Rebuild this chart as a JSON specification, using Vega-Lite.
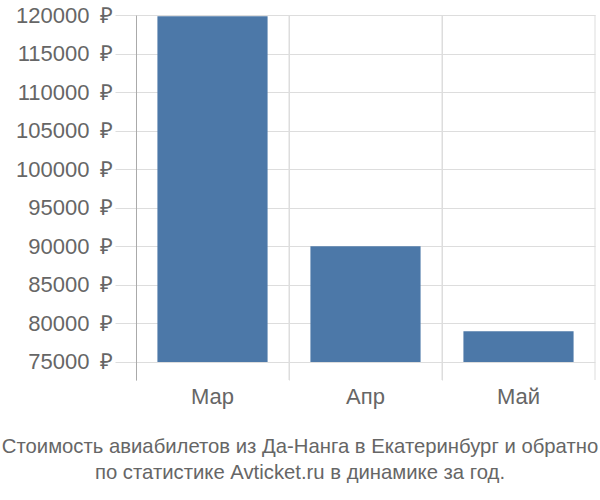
{
  "$schema": "https://vega.github.io/schema/vega-lite/v6.json",
  "width": 459,
  "height": 365,
  "autosize": {"type": "none"},
  "padding": {"left": 136, "top": 15, "right": 5, "bottom": 120},
  "background": "white",
  "config": {
    "view": {"stroke": null},
    "font": "Liberation Sans"
  },
  "title": {
    "text": ["Стоимость авиабилетов из Да-Нанга в Екатеринбург и обратно", "по статистике Avticket.ru в динамике за год."],
    "orient": "bottom",
    "anchor": "middle",
    "fontSize": 20.3,
    "fontWeight": "normal",
    "color": "#666666",
    "font": "Liberation Sans",
    "lineHeight": 26,
    "offset": 30,
    "dx": -65.5,
    "frame": "group"
  },
  "data": {
    "values": [
      {"month": "Мар", "price": 119850},
      {"month": "Апр", "price": 90000},
      {"month": "Май", "price": 79000}
    ]
  },
  "layer": [
    {
      "mark": {"type": "rule", "color": "#dddddd", "strokeWidth": 1},
      "encoding": {
        "x": {"field": "month", "type": "nominal", "sort": null, "bandPosition": 1}
      }
    },
    {
      "mark": {"type": "bar", "color": "#4c78a8", "width": {"band": 0.72}},
      "encoding": {
        "x": {
          "field": "month",
          "type": "nominal",
          "sort": null,
          "scale": {"paddingInner": 0, "paddingOuter": 0},
          "axis": {
            "title": null,
            "labelAngle": 0,
            "labelAlign": "center",
            "labelFontSize": 22,
            "labelColor": "#666666",
            "labelPadding": 16,
            "domain": false,
            "ticks": false,
            "grid": true,
            "gridColor": "#dddddd",
            "bandPosition": 0
          }
        },
        "y": {
          "field": "price",
          "type": "quantitative",
          "scale": {"domain": [72665, 120000], "nice": false, "zero": false},
          "axis": {
            "title": null,
            "values": [75000, 80000, 85000, 90000, 95000, 100000, 105000, 110000, 115000, 120000],
            "labelExpr": "datum.value + '\u2002₽'",
            "labelFontSize": 22,
            "labelColor": "#666666",
            "labelPadding": 2,
            "tickSize": 21,
            "tickColor": "#dddddd",
            "gridColor": "#dddddd",
            "domainColor": "#aaaaaa",
            "labelFlush": false
          }
        },
        "y2": {"datum": 75000}
      }
    }
  ]
}
